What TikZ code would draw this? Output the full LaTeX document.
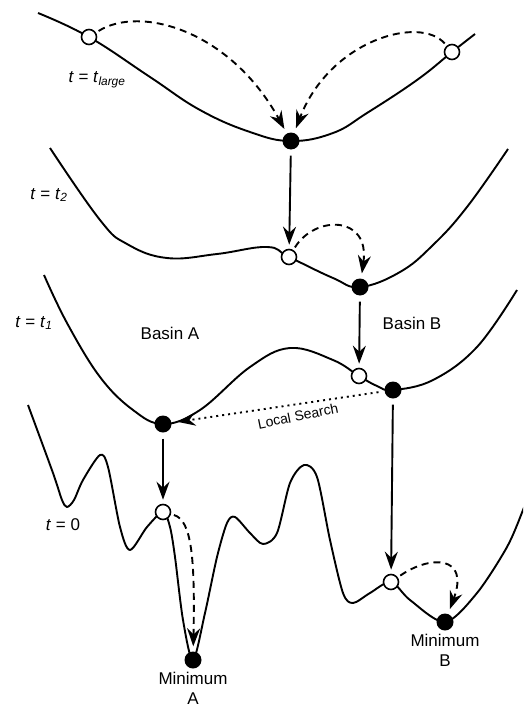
\documentclass[tikz,border=0pt]{standalone}
\usepackage{fontspec}
\setmainfont{Liberation Sans}
\usetikzlibrary{arrows.meta}
\tikzset{
  curve/.style={line width=1.9pt, line join=round},
  opendot/.style={circle, draw, fill=white, line width=1.6pt, minimum size=15pt, inner sep=0pt},
  filldot/.style={circle, fill=black, minimum size=17pt, inner sep=0pt},
  tip/.style={-{Stealth[length=18pt,width=13pt,inset=6pt]}},
  solidarrow/.style={tip, line width=1.9pt, shorten <=6pt, shorten >=4pt},
  dasharrow/.style={tip, line width=1.9pt, dash pattern=on 7pt off 5pt, shorten <=3pt, shorten >=5pt},
  dotarrow/.style={tip, line width=1.9pt, dash pattern=on 2pt off 4pt, shorten <=6pt, shorten >=6pt},
  lab/.style={font=\fontsize{17}{20}\selectfont, inner sep=0pt},
  small/.style={font=\fontsize{14}{16}\selectfont, inner sep=0pt},
}
\begin{document}
\begin{tikzpicture}[x=1pt,y=-1pt]
\useasboundingbox (0,0) rectangle (523,709);
\clip (0,0) rectangle (523,709);
% curves
\draw[curve] plot[smooth, tension=0.7] coordinates {(38,13) (89,37) (150,77) (200,110) (250,132) (291,141) (333,133) (367,113) (417,80) (452,52) (475,34)};
\draw[curve] plot[smooth, tension=0.7] coordinates {(50,148) (100,220) (127,244) (167,258) (217,254) (267,247) (289,257) (333,278) (360,287) (400,272) (433,245) (467,207) (508,149)};
\draw[curve] plot[smooth, tension=0.65] coordinates {(44,275) (67,323) (100,377) (133,410) (163,424) (200,410) (250,367) (290,348) (333,360) (359,376) (377,386) (393,390) (433,380) (477,347) (517,290)};
\draw[curve] plot[smooth, tension=0.5] coordinates {(28,405) (53,473) (62,500) (67,507) (74,500) (83,480) (100,455) (108,467) (120,527) (130,550) (147,527) (163,512) (170,527) (175,557) (183,620) (193,660) (205,613) (217,557) (227,523) (235,517) (250,533) (263,544) (277,533) (290,483) (304,465) (317,477) (330,540) (343,593) (353,603) (370,593) (391,582) (410,600) (445,622) (477,593) (507,547) (523,510) (530,490)};
% dots
\node[opendot] (o1) at (89,37) {};
\node[opendot] (o2) at (452,52) {};
\node[filldot] (f1) at (291,141) {};
\node[opendot] (o3) at (289,257) {};
\node[filldot] (f2) at (360,287) {};
\node[opendot] (o4) at (359,376) {};
\node[filldot] (f3) at (163,424) {};
\node[filldot] (f4) at (393,390) {};
\node[opendot] (o5) at (163,512) {};
\node[opendot] (o6) at (391,582) {};
\node[filldot] (f5) at (193,660) {};
\node[filldot] (f6) at (445,622) {};
% arrows
\draw[dasharrow] (o1) .. controls (140,5) and (230,30) .. (f1);
\draw[dasharrow] (o2) .. controls (420,15) and (330,40) .. (f1);
\draw[solidarrow] (f1) -- (o3);
\draw[dasharrow] (o3) .. controls (315,215) and (370,215) .. (f2);
\draw[solidarrow] (f2) -- (o4);
\draw[dotarrow] (f4) -- (f3);
\draw[solidarrow] (f3) -- (o5);
\draw[solidarrow] (f4) -- (o6);
\draw[dasharrow] (o5) .. controls (192,520) and (195,560) .. (f5);
\draw[dasharrow] (o6) .. controls (430,555) and (470,555) .. (f6);
% labels
\node[lab] (l1) at (97,80) {\textit{t} = \textit{t}\textsubscript{\textit{large}}};
\node[lab] (l2) at (49,195) {\textit{t} = \textit{t}\textsubscript{\textit{2}}};
\node[lab] (l3) at (34,323) {\textit{t} = \textit{t}\textsubscript{\textit{1}}};
\node[lab] (l4) at (63,525) {\textit{t} = 0};
\node[lab] (ba) at (170,333) {Basin A};
\node[lab] (bb) at (412,323) {Basin B};
\node[small, rotate=11.5] (ls) at (298,416) {Local Search};
\node[lab, align=center, anchor=north] (ma) at ([yshift=-3pt]f5.south) {Minimum\\A};
\node[lab, align=center, anchor=north] (mb) at ([yshift=-3pt]f6.south) {Minimum\\B};
\end{tikzpicture}
\end{document}
